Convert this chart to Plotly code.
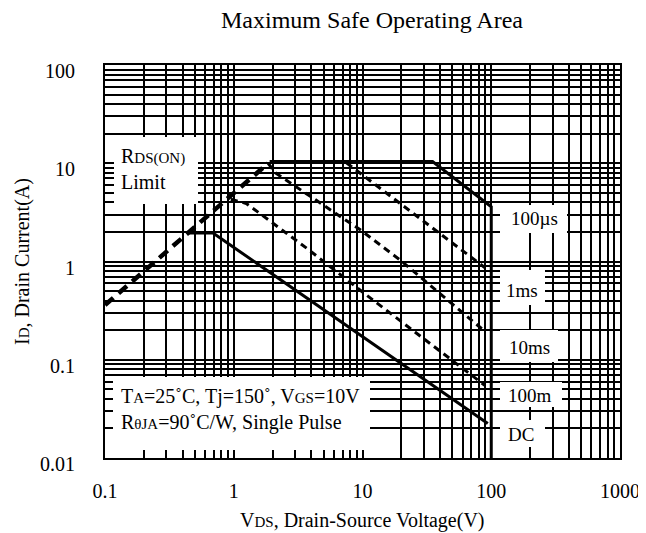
import plotly.graph_objects as go

# ---- data (V in volts, I in amps) ----
vds_rds = [0.1, 1.85]
id_rds = [0.36, 10.0]

vds_100us = [1.9, 35, 100, 100]
id_100us = [10.4, 10.4, 3.6, 0.01]

vds_1ms = [7.5, 90]
id_1ms = [10.1, 0.86]

vds_10ms = [1.85, 2.1, 9.6, 19.5, 87]
id_10ms = [10.0, 8.0, 2.1, 1.04, 0.2]

vds_100ms = [0.95, 1.25, 3.7, 9.6, 89]
id_100ms = [4.3, 3.9, 1.36, 0.51, 0.055]

vds_dc = [0.44, 0.69, 94]
id_dc = [1.95, 1.95, 0.0225]

x_ticks = [0.1, 1, 10, 100, 1000]
x_ticktext = ["0.1", "1", "10", "100", "1000"]
y_ticks = [0.01, 0.1, 1, 10, 100]
y_ticktext = ["0.01", "0.1", "1", "10", "100"]

FONT = "Liberation Serif"
OFF = 8                          # page body margin in the browser
W, H = 646 - OFF, 533 - OFF
# plot area in screen pixels
L, R, T, B = 105, 620, 65, 458


def minor_vals(first, last):
    vals = []
    d = first
    while d < last:
        vals += [d * k for k in range(2, 10)]
        d *= 10
    return vals


def px(x, y):
    # screen pixel -> paper coords (for label boxes / text placement)
    return (x - L) / (R - L), (B - y) / (B - T)


def small(s, size=14):
    return f"<span style='font-size:{size}px'>{s}</span>"


fig = go.Figure()

fig.add_trace(go.Scatter(x=vds_rds, y=id_rds, mode="lines",
                         line=dict(color="black", width=4.5, dash="11px,7px")))
fig.add_trace(go.Scatter(x=vds_100us, y=id_100us, mode="lines",
                         line=dict(color="black", width=3)))
for xs, ys in [(vds_1ms, id_1ms), (vds_10ms, id_10ms), (vds_100ms, id_100ms)]:
    fig.add_trace(go.Scatter(x=xs, y=ys, mode="lines",
                             line=dict(color="black", width=3, dash="7px,5px")))
fig.add_trace(go.Scatter(x=vds_dc, y=id_dc, mode="lines",
                         line=dict(color="black", width=3)))

# white label boxes that hide the grid (screen pixel extents)
boxes = [
    (114, 137, 198, 204),
    (500, 205, 567, 233),
    (500, 270, 545, 305),
    (500, 330, 558, 362),
    (500, 382, 562, 407),
    (500, 420, 545, 447),
    (113, 377, 370, 450),
]
for x0, y0, x1, y1 in boxes:
    a0, b0 = px(x0, y1)
    a1, b1 = px(x1, y0)
    fig.add_shape(type="rect", xref="paper", yref="paper", x0=a0, x1=a1, y0=b0, y1=b1,
                  fillcolor="white", line=dict(width=0), layer="above")

# labels
labels = [
    (534, 219, "100µs"),
    (522, 290, "1ms"),
    (529, 347, "10ms"),
    (530, 395, "100m"),
    (521, 434, "DC"),
]
for x, y, t in labels:
    a, b = px(x, y)
    fig.add_annotation(x=a, y=b, xref="paper", yref="paper", text=t, showarrow=False,
                       xanchor="center", yanchor="middle", font=dict(family=FONT, size=19, color="black"))

a, b = px(119, 169)
fig.add_annotation(x=a, y=b, xref="paper", yref="paper", showarrow=False, align="left",
                   text="R" + small("DS(ON)", 15) + "<br>Limit",
                   xanchor="left", yanchor="middle", font=dict(family=FONT, size=20, color="black"))

a, b = px(119, 409)
fig.add_annotation(x=a, y=b, xref="paper", yref="paper", showarrow=False, align="left",
                   text="T" + small("A", 15) + "=25˚C, Tj=150˚, V" + small("GS", 15) + "=10V<br>"
                        "R" + small("θJA", 15) + "=90˚C/W, Single Pulse",
                   xanchor="left", yanchor="middle", font=dict(family=FONT, size=20, color="black"))

# axis titles
a, b = px(362, 520)
fig.add_annotation(x=a, y=b, xref="paper", yref="paper", showarrow=False,
                   text="V" + small("DS", 15) + ", Drain-Source Voltage(V)",
                   xanchor="center", yanchor="middle", font=dict(family=FONT, size=20, color="black"))
a, b = px(22, 262)
fig.add_annotation(x=a, y=b, xref="paper", yref="paper", showarrow=False, textangle=-90,
                   text="I" + small("D", 15) + ", Drain Current(A)",
                   xanchor="center", yanchor="middle", font=dict(family=FONT, size=20, color="black"))

axis_common = dict(
    type="log", showline=True, linewidth=2, linecolor="black", mirror=True,
    showgrid=True, gridcolor="black", gridwidth=1.5,
    ticks="inside", ticklen=7, tickwidth=1.5, tickcolor="black",
    tickfont=dict(family=FONT, size=20, color="black"),
    zeroline=False, automargin=False,
)

fig.update_xaxes(
    **axis_common, range=[-1, 3], tickvals=x_ticks, ticktext=x_ticktext,
    minor=dict(tickvals=minor_vals(0.1, 1000), showgrid=True, gridcolor="black", gridwidth=1.5,
               ticks="inside", ticklen=7, tickwidth=1.5, tickcolor="black"),
    ticklabelstandoff=14,
)
fig.update_yaxes(
    **axis_common, range=[-2, 2], tickvals=y_ticks, ticktext=y_ticktext,
    minor=dict(tickvals=minor_vals(0.01, 100), showgrid=True, gridcolor="black", gridwidth=1.5,
               ticks="inside", ticklen=7, tickwidth=1.5, tickcolor="black"),
    ticklabelstandoff=24, ticklabelshift=6,
)

fig.update_layout(
    width=W, height=H,
    margin=dict(l=L - OFF, r=646 - R, t=T - OFF, b=533 - B),
    paper_bgcolor="white", plot_bgcolor="white",
    showlegend=False,
    title=dict(text="Maximum Safe Operating Area", x=(372 - OFF) / W, xanchor="center",
               y=1 - (20 - OFF) / H, yanchor="middle", font=dict(family=FONT, size=24, color="black")),
)

fig.write_html("out.html")
